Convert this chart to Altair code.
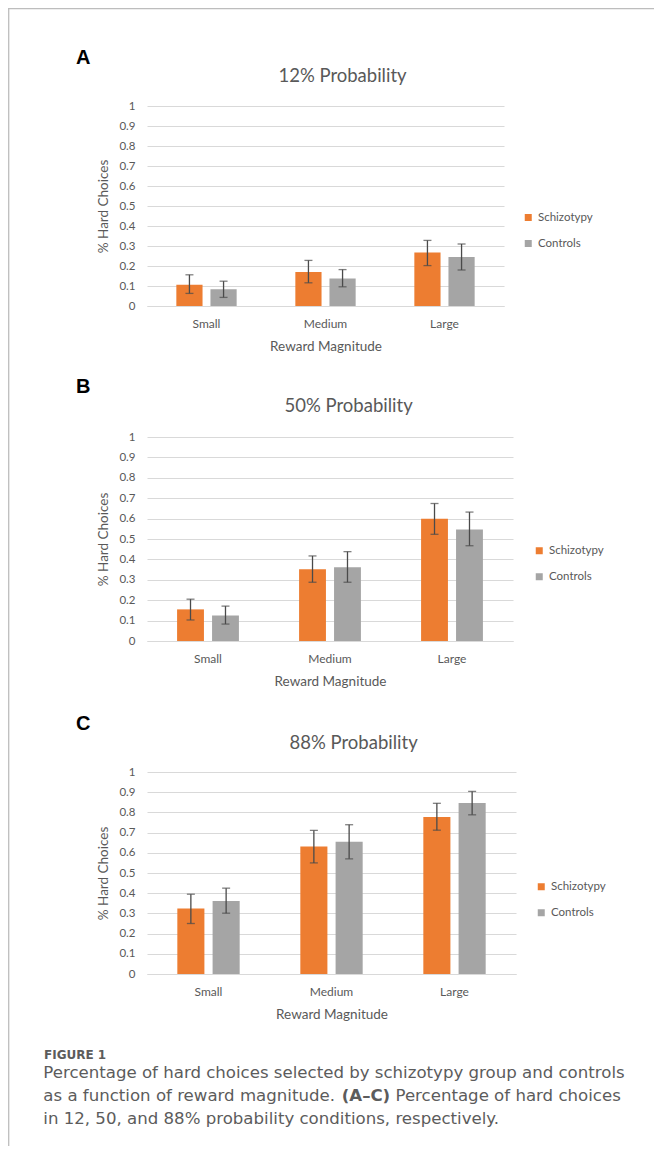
import altair as alt
import pandas as pd

magnitudes = ["Small", "Medium", "Large"]
groups = ["Schizotypy", "Controls"]
bar_colors = ["#ED7D31", "#A5A5A5"]
y_ticks = [0, 0.1, 0.2, 0.3, 0.4, 0.5, 0.6, 0.7, 0.8, 0.9, 1]

# 12% probability
p12_schiz = [0.106, 0.170, 0.267]
p12_schiz_lo = [0.063, 0.116, 0.202]
p12_schiz_hi = [0.156, 0.228, 0.328]
p12_ctrl = [0.084, 0.137, 0.245]
p12_ctrl_lo = [0.043, 0.096, 0.180]
p12_ctrl_hi = [0.124, 0.182, 0.310]

# 50% probability
p50_schiz = [0.155, 0.352, 0.599]
p50_schiz_lo = [0.103, 0.288, 0.523]
p50_schiz_hi = [0.205, 0.417, 0.674]
p50_ctrl = [0.125, 0.362, 0.547]
p50_ctrl_lo = [0.083, 0.288, 0.467]
p50_ctrl_hi = [0.171, 0.438, 0.632]

# 88% probability
p88_schiz = [0.324, 0.631, 0.777]
p88_schiz_lo = [0.250, 0.550, 0.712]
p88_schiz_hi = [0.395, 0.711, 0.845]
p88_ctrl = [0.362, 0.655, 0.846]
p88_ctrl_lo = [0.301, 0.570, 0.788]
p88_ctrl_hi = [0.425, 0.739, 0.904]

caption_head = "FIGURE 1"
caption_l1 = "Percentage of hard choices selected by schizotypy group and controls"
caption_l2a = "as a function of reward magnitude."
caption_l2b = "(A\u2013C)"
caption_l2c = "Percentage of hard choices"
caption_l3 = "in 12, 50, and 88% probability conditions, respectively."

FONT = "Lato"
CAP_FONT = "DejaVu Sans"
TXT = "#595959"
CAP_TXT = "#5c5c5c"
GRID = "#d9d9d9"
EB = "#4a4a4a"
one = pd.DataFrame({"k": [0]})


def make_df(s, s_lo, s_hi, c, c_lo, c_hi):
    rows = []
    for i, m in enumerate(magnitudes):
        rows.append(dict(mag=m, grp=groups[0], val=s[i], lo=s_lo[i], hi=s_hi[i]))
        rows.append(dict(mag=m, grp=groups[1], val=c[i], lo=c_lo[i], hi=c_hi[i]))
    return pd.DataFrame(rows)


def text_layer(txt, x, y, size, font, weight="normal", color=TXT, align="left"):
    return alt.Chart(one).mark_text(
        text=txt, font=font, fontSize=size, fontWeight=weight, color=color,
        align=align, baseline="alphabetic"
    ).encode(x=alt.value(x), y=alt.value(y))


def panel(df, width, height, title, tx, ty, letter, ly, lgx, lgy, extra=None):
    base = alt.Chart(df)
    xenc = alt.X(
        "mag:N", sort=magnitudes,
        scale=alt.Scale(paddingInner=0, paddingOuter=0),
        axis=alt.Axis(
            title="Reward Magnitude", labelAngle=0, ticks=False, domain=True,
            domainColor=GRID, labelFont=FONT, labelFontSize=12, labelColor=TXT,
            labelPadding=12, titleFont=FONT, titleFontSize=13.5, titleColor=TXT,
            titleFontWeight="normal", titlePadding=10,
        ),
    )
    xoff = alt.XOffset("grp:N", sort=groups,
                       scale=alt.Scale(paddingInner=0.232, paddingOuter=0.86))
    yaxis = alt.Axis(
        title="% Hard Choices", values=y_ticks, format="~g", grid=True,
        gridColor=GRID, gridWidth=1, domain=False, ticks=False,
        labelFont=FONT, labelFontSize=11.5, labelColor=TXT, labelPadding=12,
        titleFont=FONT, titleFontSize=13.5, titleColor=TXT,
        titleFontWeight="normal", titlePadding=8,
    )
    yscale = alt.Scale(domain=[0, 1], nice=False)
    bars = base.mark_bar().encode(
        x=xenc, xOffset=xoff,
        y=alt.Y("val:Q", scale=yscale, axis=yaxis),
        color=alt.Color(
            "grp:N", sort=groups,
            scale=alt.Scale(domain=groups, range=bar_colors),
            legend=alt.Legend(
                title=None, orient="none", legendX=lgx, legendY=lgy,
                symbolType="square", symbolSize=49, symbolStrokeWidth=0,
                labelFont=FONT, labelFontSize=11.5, labelColor=TXT,
                rowPadding=13, labelOffset=4, padding=0,
            ),
        ),
    )
    rules = base.mark_rule(color=EB, strokeWidth=1.3).encode(
        x=xenc, xOffset=xoff,
        y=alt.Y("lo:Q", scale=yscale, axis=yaxis), y2="hi:Q",
    )
    cap_hi = base.mark_tick(orient="horizontal", size=8, thickness=1.3, color=EB).encode(
        x=xenc, xOffset=xoff, y=alt.Y("hi:Q", scale=yscale, axis=yaxis),
    )
    cap_lo = base.mark_tick(orient="horizontal", size=8, thickness=1.3, color=EB).encode(
        x=xenc, xOffset=xoff, y=alt.Y("lo:Q", scale=yscale, axis=yaxis),
    )
    layers = [bars, rules, cap_hi, cap_lo,
              text_layer(title, tx, ty, 18.5, FONT, align="center"),
              text_layer(letter, -71, ly, 20, "Liberation Sans", weight="bold",
                         color="#000000")]
    if extra:
        layers += extra
    return alt.layer(*layers).properties(width=width, height=height)


frame = [
    alt.Chart(one).mark_rule(color="#bdbdbd", strokeWidth=1.3).encode(
        x=alt.value(-138.3), y=alt.value(-98), y2=alt.value(1045)),
    alt.Chart(one).mark_rule(color="#bdbdbd", strokeWidth=1.3).encode(
        x=alt.value(-139), x2=alt.value(512), y=alt.value(-97.3)),
]

caption = [
    text_layer(caption_head, -103, 287.3, 12, CAP_FONT, weight="bold", color=CAP_TXT),
    text_layer(caption_l1, -103.7, 305.7, 16.6, CAP_FONT, color=CAP_TXT),
    text_layer(caption_l2a, -103.7, 329, 16.6, CAP_FONT, color=CAP_TXT),
    text_layer(caption_l2b, 194.7, 329, 16.6, CAP_FONT, weight="bold", color=CAP_TXT),
    text_layer(caption_l2c, 248.5, 329, 16.6, CAP_FONT, color=CAP_TXT),
    text_layer(caption_l3, -103.7, 352.3, 16.6, CAP_FONT, color=CAP_TXT),
]

pA = panel(make_df(p12_schiz, p12_schiz_lo, p12_schiz_hi, p12_ctrl, p12_ctrl_lo, p12_ctrl_hi),
           357, 200, "12% Probability", 195.5, -24, "A", -42, 375.5, 105.75, extra=frame)
pB = panel(make_df(p50_schiz, p50_schiz_lo, p50_schiz_hi, p50_ctrl, p50_ctrl_lo, p50_ctrl_hi),
           366, 204, "50% Probability", 201.6, -25.3, "B", -44.3, 386.5, 108)
pC = panel(make_df(p88_schiz, p88_schiz_lo, p88_schiz_hi, p88_ctrl, p88_ctrl_lo, p88_ctrl_hi),
           369, 202, "88% Probability", 206.6, -23, "C", -42, 388.5, 109, extra=caption)

chart = alt.vconcat(pA, pB, pC, spacing=131, bounds="flush").resolve_scale(
    x="independent", y="independent", color="independent", xOffset="independent"
).resolve_legend(color="independent").properties(
    autosize=alt.AutoSizeParams(type="none"),
    padding={"left": 139, "top": 98, "right": 507, "bottom": 1040},
    background="white",
).configure_view(stroke=None)

chart.save("out.html", embed_options={"renderer": "svg", "actions": False})
